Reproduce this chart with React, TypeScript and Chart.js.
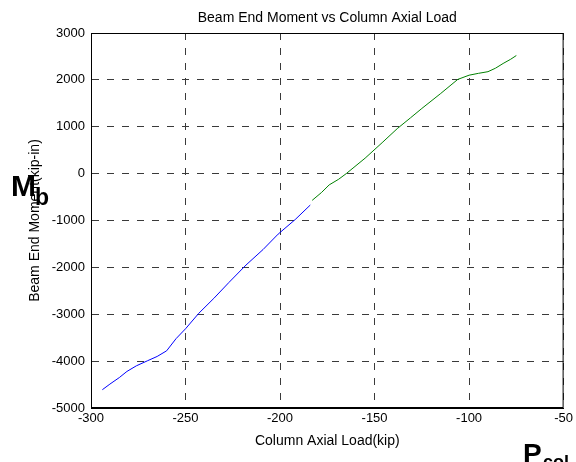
import React, { useEffect, useRef } from "react";
import { Chart, registerables } from "chart.js";

Chart.register(...registerables);

// Column axial load (kip) and beam end moment (kip-in), first loading segment
const blueLoad = [-294, -290, -285, -281, -276, -270, -265, -260, -255, -250, -243, -235, -227, -218, -209, -201, -192, -184];
const blueMoment = [-4610, -4490, -4350, -4220, -4100, -3990, -3900, -3780, -3520, -3310, -2980, -2660, -2320, -1950, -1620, -1290, -980, -670];

// Second loading segment
const greenLoad = [-183, -178, -174, -169, -165, -155, -146, -138, -131, -125, -115, -106, -100, -95, -90, -86, -82, -78, -75];
const greenMoment = [-570, -400, -240, -120, 0, 330, 660, 960, 1190, 1390, 1710, 2010, 2100, 2140, 2175, 2250, 2350, 2440, 2520];

const xTicks = [-300, -250, -200, -150, -100, -50];
const yTicks = [3000, 2000, 1000, 0, -1000, -2000, -3000, -4000, -5000];

const FONT = "'Liberation Sans', Arial, Helvetica, sans-serif";

const toPoints = (xs: number[], ys: number[]) => xs.map((x, i) => ({ x, y: ys[i] }));

const annotations = {
  id: "annotations",
  afterDraw(chart: Chart) {
    const { ctx, chartArea } = chart;
    const { left, right, top, bottom } = chartArea;
    ctx.save();
    // axes box
    ctx.setLineDash([]);
    ctx.strokeStyle = "#000";
    ctx.lineWidth = 1;
    ctx.strokeRect(left + 0.5, top + 0.5, right - left - 1, bottom - top - 1);

    ctx.fillStyle = "#000";
    ctx.textBaseline = "alphabetic";
    ctx.textAlign = "center";
    ctx.font = `14px ${FONT}`;
    // title
    ctx.fillText("Beam End Moment vs Column Axial Load", (left + right) / 2, 22);
    // x-axis title
    ctx.fillText("Column Axial Load(kip)", (left + right) / 2, 445);
    // y-axis title
    ctx.save();
    ctx.translate(39, (top + bottom) / 2);
    ctx.rotate(-Math.PI / 2);
    ctx.fillText("Beam End Moment(kip-in)", 0, 0);
    ctx.restore();

    // M_b
    ctx.textAlign = "left";
    ctx.font = `bold 30px ${FONT}`;
    ctx.fillText("M", 11, 196);
    ctx.font = `bold 23px ${FONT}`;
    ctx.fillText("b", 35, 205);

    // P_col
    ctx.font = `bold 28px ${FONT}`;
    ctx.fillText("P", 523, 463);
    ctx.font = `bold 18px ${FONT}`;
    ctx.fillText("col", 543, 468);
    ctx.restore();
  },
};

export default function App() {
  const canvasRef = useRef<HTMLCanvasElement>(null);

  useEffect(() => {
    const canvas = canvasRef.current;
    if (!canvas) return;
    const gridColor = "#3a3a3a";
    const chart = new Chart(canvas, {
      type: "scatter",
      data: {
        datasets: [
          {
            data: toPoints(blueLoad, blueMoment),
            showLine: true,
            borderColor: "#0000ff",
            borderWidth: 1,
            pointRadius: 0,
            tension: 0,
          },
          {
            data: toPoints(greenLoad, greenMoment),
            showLine: true,
            borderColor: "#008000",
            borderWidth: 1,
            pointRadius: 0,
            tension: 0,
          },
        ],
      },
      options: {
        responsive: false,
        animation: false,
        layout: { padding: { top: 33, right: 9, left: 0, bottom: 0 } },
        plugins: {
          legend: { display: false },
          title: { display: false },
          tooltip: { enabled: false },
        },
        scales: {
          x: {
            type: "linear",
            min: xTicks[0],
            max: xTicks[xTicks.length - 1],
            afterBuildTicks: (scale: any) => {
              scale.ticks = xTicks.map((v) => ({ value: v }));
            },
            afterFit: (scale: any) => {
              scale.height = 54;
            },
            grid: { color: gridColor, lineWidth: 1, drawTicks: false },
            border: { display: true, color: "#000", width: 1, dash: [7, 8] },
            ticks: {
              padding: 3,
              color: "#000",
              font: { family: FONT, size: 13 },
              maxRotation: 0,
              autoSkip: false,
              callback: (v: any) => String(v),
            },
          },
          y: {
            type: "linear",
            min: yTicks[yTicks.length - 1],
            max: yTicks[0],
            afterBuildTicks: (scale: any) => {
              scale.ticks = [...yTicks].reverse().map((v) => ({ value: v }));
            },
            afterFit: (scale: any) => {
              scale.width = 91;
            },
            grid: { color: gridColor, lineWidth: 1, drawTicks: false },
            border: { display: true, color: "#000", width: 1, dash: [7, 8] },
            ticks: {
              padding: 6,
              color: "#000",
              font: { family: FONT, size: 13 },
              autoSkip: false,
              callback: (v: any) => String(v),
            },
          },
        },
      },
      plugins: [annotations],
    });
    return () => chart.destroy();
  }, []);

  return (
    <div style={{ position: "absolute", left: 0, top: 0, width: 576, height: 462, background: "#fff" }}>
      <canvas ref={canvasRef} width={576} height={462} style={{ width: 576, height: 462, display: "block" }} />
    </div>
  );
}
